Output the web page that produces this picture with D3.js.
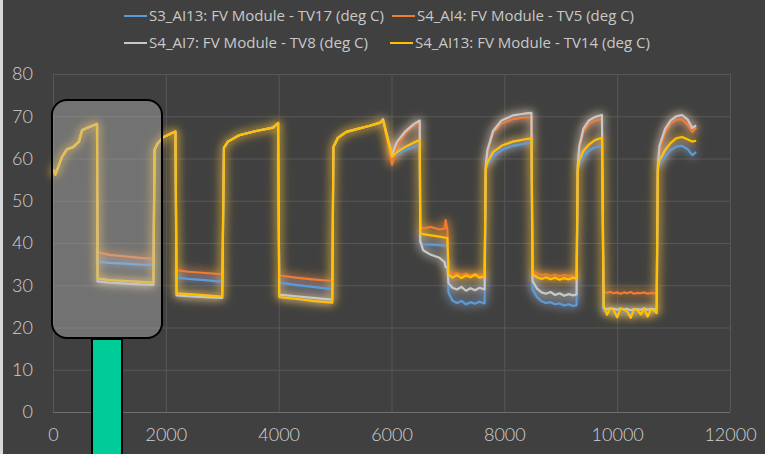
<!DOCTYPE html>
<html>
<head>
<meta charset="utf-8">
<script src="https://cdn.jsdelivr.net/npm/d3@7"></script>
<style>
  html, body { margin: 0; padding: 0; background: #404040; }
  svg { display: block; }
</style>
</head>
<body>
<svg id="chart" width="765" height="454"></svg>
<script>
// time axis (shared by all series)
var t = [
  0, 40, 160, 250, 355, 460, 515, 600, 745, 780,
  790, 1000, 1300, 1550, 1780,
  1800, 1850, 1950, 2100, 2170,
  2190, 2400, 2700, 3000,
  3030, 3100, 3300, 3600, 3900, 3990,
  4010, 4300, 4600, 4950,
  4970, 5050, 5200, 5400, 5600, 5800, 5850,
  6010, 6100, 6250, 6400, 6500,
  6510, 6560, 6700, 6850, 6940, 6960, 6990,
  7010, 7080, 7160, 7240, 7320, 7400, 7480, 7560, 7650,
  7670, 7700, 7800, 7950, 8150, 8350, 8480,
  8500, 8580, 8660, 8740, 8820, 8900, 8980, 9060, 9140, 9220, 9280,
  9300, 9330, 9400, 9500, 9600, 9730,
  9760, 9820, 9880, 9940, 10000, 10060, 10120, 10180, 10240, 10300, 10360, 10420, 10480, 10540, 10600, 10660, 10700,
  10720, 10750, 10850, 10950, 11050, 11150, 11250, 11330, 11400
];

var tv17 = [
  57.5, 56.2, 60.4, 62.2, 62.7, 64, 66.7, 67.2, 68, 68.2,
  35.6, 35.3, 35.1, 34.9, 34.8,
  62, 63.5, 65, 66, 66.4,
  31.8, 31.5, 31.2, 30.8,
  62.5, 64, 65.5, 66.5, 67.3, 68.4,
  30.6, 30.1, 29.6, 29.1,
  62.7, 64.9, 66.3, 67, 67.7, 68.5, 69,
  60.4, 61, 62, 62.8, 63.2,
  39.9, 39.7, 39.6, 39.5, 39.4, 39.4, 39.4,
  28.3, 26.4, 25.8, 26.3, 25.5, 26.0, 25.6, 26.1, 25.7,
  57.3, 58.5, 60.5, 62, 63, 63.5, 63.8,
  29.0, 27.2, 26.2, 25.8, 26.0, 25.5, 25.7, 25.2, 25.5, 25.1, 25.3,
  57, 58.5, 60.5, 61.8, 62.6, 63,
  24.0, 23.8, 24.1, 23.9, 23.7, 24.0, 23.8, 23.9, 23.6, 23.9, 23.8, 23.7, 24.0, 23.7, 23.9, 23.8, 23.8,
  57, 58.5, 60.5, 62, 62.8, 63, 62.2, 60.8, 61.5
];

var tv5 = [
  57.5, 56.2, 60.4, 62.2, 62.7, 64, 66.7, 67.2, 68, 68.2,
  37.8, 37.2, 36.8, 36.5, 36.3,
  62, 63.5, 65, 66, 66.4,
  33.6, 33.2, 32.9, 32.6,
  62.5, 64, 65.5, 66.5, 67.3, 68.4,
  32.3, 31.8, 31.4, 31,
  62.7, 64.9, 66.3, 67, 67.7, 68.5, 69,
  58.5, 63, 66, 67.8, 68.6,
  44, 43.4, 43.8, 43.2, 43.4, 45.4, 43,
  33.2, 32.6, 32.9, 32.4, 32.8, 32.3, 32.7, 32.4, 32.5,
  57.8, 61.5, 66, 68.3, 69.3, 69.7, 69.8,
  33.3, 32.8, 32.4, 32.6, 32.2, 32.5, 32.1, 32.4, 32.2, 32.3, 32.2,
  57.6, 62.5, 66.2, 68.2, 69, 69.3,
  28.5, 28.2, 28.4, 28.1, 28.3, 28.0, 28.3, 28.1, 28.4, 28.0, 28.2, 28.1, 28.3, 28.0, 28.2, 28.1, 28.2,
  57.6, 62, 66, 68.3, 69.2, 69.3, 68, 66.3, 67.2
];

var tv8 = [
  57.5, 56.2, 60.4, 62.2, 62.7, 64, 66.7, 67.2, 68, 68.2,
  30.9, 30.6, 30.4, 30.2, 30.1,
  62, 63.5, 65, 66, 66.4,
  27.6, 27.4, 27.2, 27.0,
  62.5, 64, 65.5, 66.5, 67.3, 68.4,
  27.8, 27.4, 27.0, 26.6,
  62.7, 64.9, 66.3, 67, 67.7, 68.5, 69.3,
  60.8, 64, 66.5, 68.2, 69,
  40.5, 38.3, 37.2, 36.5, 35.5, 34.3, 34.3,
  30.5, 29.4, 29.0, 29.6, 28.7, 29.3, 28.8, 29.4, 29.0,
  58, 62, 66.5, 69, 70.2, 70.6, 70.8,
  31.0, 29.2, 28.3, 28.0, 28.4, 27.7, 28.1, 27.5, 27.9, 27.6, 27.8,
  58, 63, 67, 69, 69.8, 70.3,
  24.6, 24.3, 24.5, 24.4, 24.2, 24.5, 24.3, 24.4, 24.1, 24.4, 24.3, 24.2, 24.5, 24.2, 24.4, 24.3, 24.3,
  58, 63, 67, 69, 70, 70.3, 69.2, 67.2, 67.8
];

var tv14 = [
  57.5, 56.2, 60.4, 62.2, 62.7, 64, 66.7, 67.2, 68, 68.2,
  31.6, 31.2, 31.0, 30.8, 30.6,
  62, 63.5, 65, 66, 66.4,
  28.1, 27.9, 27.6, 27.3,
  62.5, 64, 65.5, 66.5, 67.3, 68.4,
  27.2, 26.8, 26.3, 25.9,
  62.7, 64.9, 66.3, 67, 67.7, 68.5, 69,
  60.4, 61.5, 62.8, 63.8, 64.4,
  42.3, 42.1, 41.8, 41.5, 41.3, 41.2, 41.2,
  32.6, 31.8, 32.4, 31.7, 32.3, 31.9, 32.5, 31.8, 32.1,
  57.5, 59, 61.5, 63, 64, 64.5, 64.8,
  32.6, 31.9, 31.5, 31.9, 31.4, 31.8, 31.3, 31.7, 31.4, 31.8, 31.5,
  57.3, 59.5, 61.8, 63.3, 64.3, 64.9,
  25.2, 23.0, 24.6, 24.1, 22.4, 24.5, 24.2, 23.8, 22.3, 24.4, 24.0, 23.1, 24.5, 22.6, 24.3, 23.9, 23.4,
  57.3, 59.5, 62, 63.7, 64.8, 65.1, 64.5, 64, 64.2
];

var seriesNames = [
  "S3_AI13: FV Module - TV17 (deg C)",
  "S4_AI4: FV Module - TV5 (deg C)",
  "S4_AI7: FV Module - TV8 (deg C)",
  "S4_AI13: FV Module - TV14 (deg C)"
];
var seriesColors = ["#5b9bd5", "#ed7d31", "#c8c8c8", "#ffc000"];
var seriesValues = [tv17, tv5, tv8, tv14];

var xTicks = [0, 2000, 4000, 6000, 8000, 10000, 12000];
var yTicks = [0, 10, 20, 30, 40, 50, 60, 70, 80];

var svg = d3.select("#chart");

var x = d3.scaleLinear().domain([0, 12000]).range([53, 730]);
var y = d3.scaleLinear().domain([0, 80]).range([412, 74]);

// light strip on the left edge
svg.append("rect").attr("x", 0).attr("y", 0).attr("width", 3).attr("height", 454).attr("fill", "#d9d9d9");

// glow filter: blurred copy of the lines, tinted toward gold, under the lines
var defs = svg.append("defs");
var glow = defs.append("filter").attr("id", "glow")
  .attr("x", "-5%").attr("y", "-10%").attr("width", "110%").attr("height", "120%");
glow.append("feGaussianBlur").attr("in", "SourceGraphic").attr("stdDeviation", 4).attr("result", "blurC");
glow.append("feGaussianBlur").attr("in", "SourceAlpha").attr("stdDeviation", 6.5).attr("result", "blurA");
glow.append("feFlood").attr("flood-color", "#c2a445").attr("flood-opacity", 0.6);
glow.append("feComposite").attr("in2", "blurA").attr("operator", "in").attr("result", "halo");
var ct = glow.append("feComponentTransfer").attr("in", "blurC").attr("result", "blurC2");
ct.append("feFuncA").attr("type", "linear").attr("slope", 1.3);
var merge = glow.append("feMerge");
merge.append("feMergeNode").attr("in", "halo");
merge.append("feMergeNode").attr("in", "blurC2");
merge.append("feMergeNode").attr("in", "SourceGraphic");

// grid
svg.append("g").attr("class", "ygrid")
  .selectAll("line").data(yTicks).enter().append("line")
  .attr("x1", x(0)).attr("x2", x(12000))
  .attr("y1", function(d) { return y(d) + 0.5; })
  .attr("y2", function(d) { return y(d) + 0.5; })
  .attr("stroke", function(d) { return d == 0 ? "#6e6e6e" : "#575757"; })
  .attr("stroke-width", 1);

svg.append("g").attr("class", "xgrid")
  .selectAll("line").data(xTicks).enter().append("line")
  .attr("x1", function(d) { return x(d) + 0.5; })
  .attr("x2", function(d) { return x(d) + 0.5; })
  .attr("y1", y(80)).attr("y2", y(0))
  .attr("stroke", "#575757")
  .attr("stroke-width", 1);

// axes labels
var yAxis = d3.axisLeft(y).tickValues(yTicks).tickSize(0).tickPadding(20);
var yg = svg.append("g").attr("transform", "translate(" + x(0) + ",0)").call(yAxis);
var xAxis = d3.axisBottom(x).tickValues(xTicks).tickFormat(d3.format("d")).tickSize(0).tickPadding(16);
var xg = svg.append("g").attr("transform", "translate(0," + y(0) + ")").call(xAxis);
[yg, xg].forEach(function(g) {
  g.select(".domain").remove();
  g.selectAll("text")
    .attr("fill", "#d0d0d0")
    .style("font-family", "Lato, 'Open Sans', sans-serif")
    .style("font-weight", "300")
    .style("font-size", "18px");
});

// lines
var line = d3.line()
  .x(function(d, i) { return x(t[i]); })
  .y(function(d) { return y(d); });

svg.append("g").attr("class", "lines").attr("filter", "url(#glow)")
  .selectAll("path").data(seriesValues).enter().append("path")
  .attr("d", line)
  .attr("fill", "none")
  .attr("stroke", function(d, i) { return seriesColors[i]; })
  .attr("stroke-width", 2.2)
  .attr("stroke-linejoin", "round");

// legend
var legendPos = [
  { lx: 124, ly: 16, len: 235 },
  { lx: 392, ly: 16, len: 217 },
  { lx: 124, ly: 43, len: 219 },
  { lx: 390, ly: 43, len: 235 }
];
var legend = svg.append("g").attr("class", "legend")
  .selectAll("g").data(seriesNames).enter().append("g")
  .attr("transform", function(d, i) { return "translate(" + legendPos[i].lx + "," + legendPos[i].ly + ")"; });
legend.append("line")
  .attr("x1", 0).attr("x2", 23).attr("y1", 0).attr("y2", 0)
  .attr("stroke", function(d, i) { return seriesColors[i]; })
  .attr("stroke-width", 2);
legend.append("text")
  .attr("x", 25).attr("y", 5)
  .attr("fill", "#c8c8c8")
  .attr("textLength", function(d, i) { return legendPos[i].len; })
  .attr("lengthAdjust", "spacingAndGlyphs")
  .style("font-family", "'Liberation Sans Narrow', 'Open Sans', sans-serif")
  .style("font-size", "14px")
  .text(function(d) { return d; });

// highlight box and marker bar
svg.append("rect")
  .attr("x", 52).attr("y", 100).attr("width", 110).attr("height", 238)
  .attr("rx", 15).attr("ry", 15)
  .attr("fill", "rgba(191,191,191,0.4)")
  .attr("stroke", "#000").attr("stroke-width", 2);

svg.append("rect")
  .attr("x", 92).attr("y", 339).attr("width", 30).attr("height", 120)
  .attr("fill", "#00cc99")
  .attr("stroke", "#000").attr("stroke-width", 2);
</script>
</body>
</html>
